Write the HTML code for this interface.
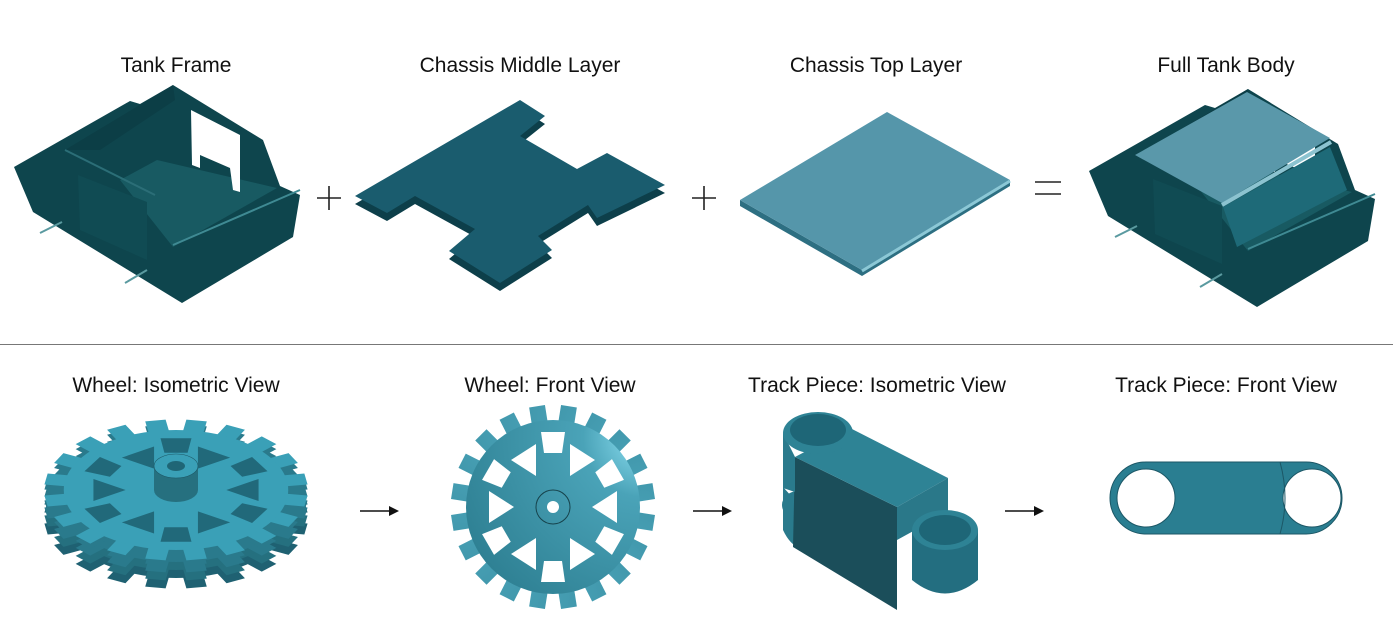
<!DOCTYPE html>
<html><head><meta charset="utf-8"><style>
html,body{margin:0;padding:0;background:#fff;}
svg{display:block;}
text{font-family:"Liberation Sans",sans-serif;font-size:21px;fill:#111;}
</style></head><body>
<svg width="1393" height="617" viewBox="0 0 1393 617" xmlns="http://www.w3.org/2000/svg">
<defs>
<g id="teeth">
<rect x="-8" y="-102" width="16" height="20" transform="rotate(9)"/>
<rect x="-8" y="-102" width="16" height="20" transform="rotate(27)"/>
<rect x="-8" y="-102" width="16" height="20" transform="rotate(45)"/>
<rect x="-8" y="-102" width="16" height="20" transform="rotate(63)"/>
<rect x="-8" y="-102" width="16" height="20" transform="rotate(81)"/>
<rect x="-8" y="-102" width="16" height="20" transform="rotate(99)"/>
<rect x="-8" y="-102" width="16" height="20" transform="rotate(117)"/>
<rect x="-8" y="-102" width="16" height="20" transform="rotate(135)"/>
<rect x="-8" y="-102" width="16" height="20" transform="rotate(153)"/>
<rect x="-8" y="-102" width="16" height="20" transform="rotate(171)"/>
<rect x="-8" y="-102" width="16" height="20" transform="rotate(189)"/>
<rect x="-8" y="-102" width="16" height="20" transform="rotate(207)"/>
<rect x="-8" y="-102" width="16" height="20" transform="rotate(225)"/>
<rect x="-8" y="-102" width="16" height="20" transform="rotate(243)"/>
<rect x="-8" y="-102" width="16" height="20" transform="rotate(261)"/>
<rect x="-8" y="-102" width="16" height="20" transform="rotate(279)"/>
<rect x="-8" y="-102" width="16" height="20" transform="rotate(297)"/>
<rect x="-8" y="-102" width="16" height="20" transform="rotate(315)"/>
<rect x="-8" y="-102" width="16" height="20" transform="rotate(333)"/>
<rect x="-8" y="-102" width="16" height="20" transform="rotate(351)"/>
<circle r="87"/>
</g>
<g id="holes">
<polygon points="-12,-75 12,-75 9,-54 -9,-54"/>
<polygon points="-12,-75 12,-75 9,-54 -9,-54" transform="rotate(60)"/>
<polygon points="-12,-75 12,-75 9,-54 -9,-54" transform="rotate(120)"/>
<polygon points="-12,-75 12,-75 9,-54 -9,-54" transform="rotate(180)"/>
<polygon points="-12,-75 12,-75 9,-54 -9,-54" transform="rotate(240)"/>
<polygon points="-12,-75 12,-75 9,-54 -9,-54" transform="rotate(300)"/>
<polygon points="17,-63 17,-31 42,-47"/>
<polygon points="64,-16 64,16 39,0"/>
<polygon points="17,63 17,31 42,47"/>
<polygon points="-17,63 -17,31 -42,47"/>
<polygon points="-64,-16 -64,16 -39,0"/>
<polygon points="-17,-63 -17,-31 -42,-47"/>
</g>
<radialGradient id="wg" gradientUnits="userSpaceOnUse" cx="90" cy="-70" r="200">
<stop offset="0" stop-color="#8ee0f2"/><stop offset="0.3" stop-color="#4aa3b8"/><stop offset="1" stop-color="#2f8194"/>
</radialGradient>
<g id="frame">
<polygon points="14,167 130,101 140,104 173,85 263,140 280,186 300,195 293,237 182,303 33,212" fill="#0e454d"/>
<polygon points="120,180 157,160 277,188 173,247" fill="#185a62"/>
<polygon points="65,150 173,85 175,100 100,150" fill="#0c3e46"/>
<polygon points="191,110 240,135 240,192 233,190 230,168 200,155 200,168 192,165" fill="#fff"/>
<polygon points="78,175 147,202 147,260 80,230" fill="#104b53"/>
<line x1="173" y1="245" x2="300" y2="190" stroke="#3f8a93" stroke-width="2"/>
<line x1="65" y1="150" x2="155" y2="195" stroke="#2b6e77" stroke-width="2"/>
<line x1="40" y1="233" x2="62" y2="222" stroke="#5a9aa0" stroke-width="2"/>
<line x1="125" y1="283" x2="147" y2="270" stroke="#5a9aa0" stroke-width="2"/>
</g>
</defs>

<text x="176" y="72" text-anchor="middle">Tank Frame</text>
<text x="520" y="72" text-anchor="middle">Chassis Middle Layer</text>
<text x="876" y="72" text-anchor="middle">Chassis Top Layer</text>
<text x="1226" y="72" text-anchor="middle">Full Tank Body</text>
<text x="176" y="392" text-anchor="middle">Wheel: Isometric View</text>
<text x="550" y="392" text-anchor="middle">Wheel: Front View</text>
<text x="877" y="392" text-anchor="middle">Track Piece: Isometric View</text>
<text x="1226" y="392" text-anchor="middle">Track Piece: Front View</text>

<line x1="0" y1="344.5" x2="1393" y2="344.5" stroke="#777" stroke-width="1"/>

<g stroke="#222" stroke-width="1.6">
<line x1="317" y1="198" x2="341" y2="198"/><line x1="329" y1="186" x2="329" y2="210"/>
<line x1="692" y1="198" x2="716" y2="198"/><line x1="704" y1="186" x2="704" y2="210"/>
<line x1="1035" y1="182" x2="1061" y2="182"/><line x1="1035" y1="194" x2="1061" y2="194"/>
</g>
<g stroke="#111" stroke-width="1.6" fill="#111">
<line x1="360" y1="511" x2="392" y2="511"/><polygon points="399,511 389,506 389,516" stroke="none"/>
<line x1="693" y1="511" x2="725" y2="511"/><polygon points="732,511 722,506 722,516" stroke="none"/>
<line x1="1005" y1="511" x2="1037" y2="511"/><polygon points="1044,511 1034,506 1034,516" stroke="none"/>
</g>

<use href="#frame"/>

<polygon points="355,204 520,108 545,124 520,144 577,177 607,161 665,193 597,226 588,213 538,244 552,258 500,291 449,259 475,237 415,204 387,221" fill="#0d3f4a"/>
<polygon points="355,196 520,100 545,116 520,136 577,169 607,153 665,185 597,218 588,205 538,236 552,250 500,283 449,251 475,229 415,196 387,213" fill="#1a5c6e"/>

<polygon points="740,206 862,276 1010,186 1010,180 862,270 740,200" fill="#2d6f82"/>
<polygon points="740,200 887,112 1010,180 862,270" fill="#5596aa"/>
<line x1="862" y1="271" x2="1010" y2="181" stroke="#8cc8d6" stroke-width="3"/>

<g transform="translate(1075,4)"><use href="#frame"/></g>
<polygon points="1223,207 1330,147 1347,190 1237,247" fill="#1e6a78"/>
<polygon points="1135,155 1247,92 1330,138 1222,203" fill="#5a98aa"/>
<line x1="1222" y1="205" x2="1331" y2="142" stroke="#8cc3d0" stroke-width="4"/>

<!-- Wheel iso -->
<g transform="translate(176,518) scale(1.29,0.69)" fill="#1f6172"><use href="#teeth"/></g>
<g transform="translate(176,510) scale(1.29,0.69)" fill="#25707f"><use href="#teeth"/></g>
<g transform="translate(176,502) scale(1.29,0.69)" fill="#2a7a8c"><use href="#teeth"/></g>
<g transform="translate(176,495) scale(1.29,0.69)" fill="#2a7a8c"><use href="#teeth"/></g>
<g transform="translate(176,490) scale(1.29,0.69)" fill="#3aa0b7"><use href="#teeth"/></g>
<g transform="translate(176,490) scale(1.29,0.69)" fill="#21697a"><use href="#holes"/></g>
<rect x="154" y="466" width="44" height="24" fill="#26707f"/>
<ellipse cx="176" cy="490" rx="22" ry="12" fill="#26707f"/>
<ellipse cx="176" cy="466" rx="22" ry="12" fill="#3aa0b7" stroke="#1d5866" stroke-width="0.6"/>
<ellipse cx="176" cy="466" rx="9" ry="5" fill="#1f6676"/>

<!-- Wheel front -->
<g transform="translate(553,507)">
<use href="#teeth" fill="url(#wg)"/>
<use href="#holes" fill="#fff"/>
<circle r="17" fill="none" stroke="#16424b" stroke-width="1"/>
<circle r="6" fill="#fff"/>
</g>

<!-- Track piece iso -->
<path d="M783,487 L783,530 Q790,545 800,548 L813,555 L813,520 Z" fill="#2a7a8c"/>
<ellipse cx="798" cy="505" rx="16" ry="14" fill="#2a7a8c"/>
<polygon points="795,457 897,507 897,610 793,547" fill="#1b4e5a"/>
<path d="M783,433 L783,488 L795,492 L795,457 Z" fill="#2a7a8c"/>
<polygon points="795,457 897,507 948,478 850,428" fill="#2e8395"/>
<polygon points="897,507 948,478 948,512 897,540" fill="#2a7889"/>
<ellipse cx="818" cy="433" rx="35" ry="21" fill="#2e8395"/>
<ellipse cx="818" cy="430" rx="28" ry="16" fill="#1e6677"/>
<path d="M912,530 L912,580 Q945,607 978,580 L978,530 Z" fill="#236e80"/>
<ellipse cx="945" cy="530" rx="33" ry="20" fill="#2e8395"/>
<ellipse cx="945" cy="530" rx="26" ry="15" fill="#1e6677"/>

<!-- Track piece front -->
<rect x="1110" y="462" width="232" height="72" rx="36" fill="#2a7e91" stroke="#1c5766" stroke-width="1"/>
<circle cx="1146" cy="498" r="29" fill="#fff" stroke="#1c5766" stroke-width="1"/>
<circle cx="1312" cy="498" r="29" fill="#fff" stroke="#1c5766" stroke-width="1"/>
<path d="M1280,462 Q1290,498 1280,534" fill="none" stroke="#1c5766" stroke-width="1"/>
</svg>
</body></html>
